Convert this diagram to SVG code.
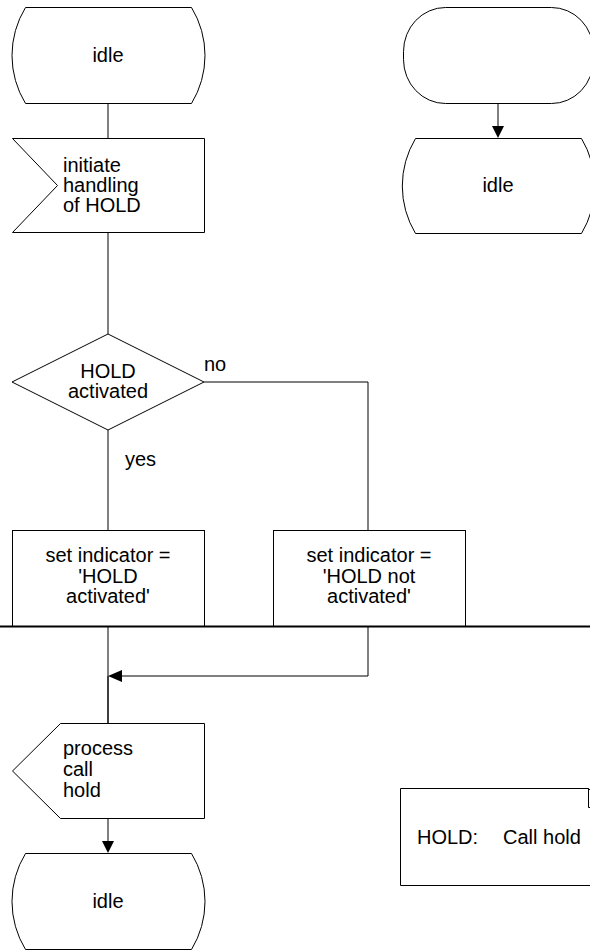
<svg xmlns="http://www.w3.org/2000/svg" width="590" height="951" viewBox="0 0 590 951">
<style>
.s{fill:#fff;stroke:#000;stroke-width:1}
.c{fill:none;stroke:#000;stroke-width:1}
.t{font-family:"Liberation Sans",Arial,sans-serif;font-size:20px;fill:#000}
.m{text-anchor:middle}
.a{fill:#000;stroke:none}
</style>
<rect width="590" height="951" fill="#fff"/>
<g id="connectors">
<line class="c" x1="108" y1="103" x2="108" y2="138"/>
<line class="c" x1="108" y1="233" x2="108" y2="334"/>
<line class="c" x1="108" y1="430" x2="108" y2="530"/>
<polyline class="c" points="204,382 368,382 368,530"/>
<line class="c" x1="108" y1="626" x2="108" y2="723"/>
<line class="c" x1="108" y1="676" x2="108" y2="723"/>
<polyline class="c" points="368,626 368,676 120,676"/>
<polygon class="a" points="108,676 122,670 122,682"/>
<line class="c" x1="108" y1="818" x2="108" y2="843"/>
<polygon class="a" points="108,853 102,841 114,841"/>
<line class="c" x1="498" y1="103" x2="498" y2="126"/>
<polygon class="a" points="498,138 492,126 504,126"/>
<text class="t" x="204" y="371">no</text>
<text class="t" x="125" y="466">yes</text>
</g>
<g id="idle1">
<path class="s" d="M25.5,7.5 H191.5 A92,92 0 0 1 191.5,103.5 H25.5 A92,92 0 0 1 25.5,7.5 Z"/>
<text class="t m" x="108" y="62">idle</text>
</g>
<g id="input">
<path class="s" d="M12.5,138.5 H204.5 V232.5 H12.5 L57.5,185.5 Z"/>
<text class="t" x="63" y="172">initiate</text>
<text class="t" x="63" y="192">handling</text>
<text class="t" x="63" y="212">of HOLD</text>
</g>
<g id="decision">
<path class="s" d="M108,334 L204,382 L108,430 L12,382 Z"/>
<text class="t m" x="108" y="378">HOLD</text>
<text class="t m" x="108" y="398">activated</text>
</g>
<g id="task1">
<rect class="s" x="12.5" y="530.5" width="192" height="96"/>
<text class="t m" x="108" y="562">set indicator =</text>
<text class="t m" x="108" y="583">'HOLD</text>
<text class="t m" x="108" y="603">activated'</text>
</g>
<g id="task2">
<rect class="s" x="273.5" y="530.5" width="192" height="96"/>
<text class="t m" x="369" y="562">set indicator =</text>
<text class="t m" x="369" y="583">'HOLD not</text>
<text class="t m" x="369" y="603">activated'</text>
</g>
<g id="pagebreak">
<line x1="0" y1="626.5" x2="590" y2="626.5" stroke="#000" stroke-width="2"/>
</g>
<g id="output">
<path class="s" d="M60.5,723.5 H204.5 V818.5 H60.5 L12.5,771 Z"/>
<text class="t" x="63" y="755">process</text>
<text class="t" x="63" y="776">call</text>
<text class="t" x="63" y="797">hold</text>
</g>
<g id="idle3">
<path class="s" d="M25.5,853.5 H191.5 A92,92 0 0 1 191.5,949.5 H25.5 A92,92 0 0 1 25.5,853.5 Z"/>
<text class="t m" x="108" y="908">idle</text>
</g>
<g id="start">
<rect class="s" x="403.5" y="7.5" width="190" height="96" rx="42" ry="44"/>
</g>
<g id="idle2">
<path class="s" d="M415.5,138.5 H581.5 A92,92 0 0 1 581.5,233.5 H415.5 A92,92 0 0 1 415.5,138.5 Z"/>
<text class="t m" x="498" y="192">idle</text>
</g>
<g id="comment">
<path class="s" d="M400.5,788.5 H588.5 L607.5,807.5 V885.5 H400.5 Z"/>
<polyline class="c" points="588.5,788.5 588.5,807.5 607.5,807.5"/>
<text class="t" x="417" y="844">HOLD:</text>
<text class="t" x="503" y="844">Call hold</text>
</g>
</svg>
